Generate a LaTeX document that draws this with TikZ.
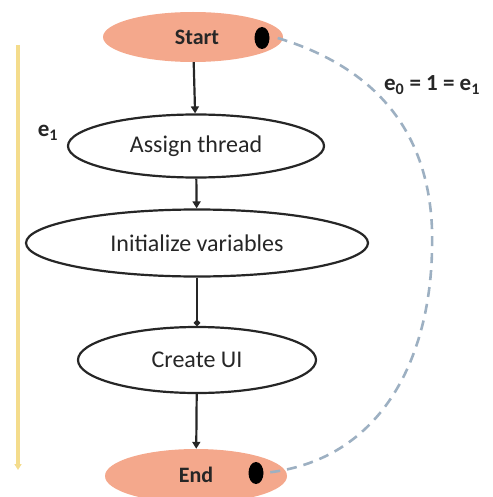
\documentclass[tikz,border=0pt]{standalone}
\usepackage{fontspec}
\setmainfont{Carlito}
\usetikzlibrary{shapes.geometric,arrows.meta}
\definecolor{salmon}{HTML}{F4A88C}
\definecolor{flowyellow}{HTML}{F4DC8C}
\definecolor{loopblue}{HTML}{9DB0C2}
\definecolor{ink}{HTML}{262626}
\begin{document}
\begin{tikzpicture}[x=1pt,y=-1pt,
  stepbox/.style={ellipse, draw=ink, line width=2.2pt, fill=white, inner sep=0pt,
    font=\fontsize{24}{28}\selectfont, text=ink},
  terminal/.style={ellipse, fill=salmon, inner sep=0pt, minimum width=180pt,
    minimum height=50pt, font=\bfseries\fontsize{22}{26}\selectfont, text=ink},
  token/.style={ellipse, fill=black, inner sep=0pt, minimum width=15pt, minimum height=22pt},
  flow/.style={line width=2.2pt, draw=ink, -{Triangle[length=7pt,width=8pt]}},
  joint/.style={line width=2.2pt, draw=ink, -{Circle[length=6pt]}},
  loop/.style={draw=loopblue, line width=2.6pt, dash pattern=on 10pt off 7pt},
  lbl/.style={font=\bfseries\fontsize{23}{26}\selectfont, text=ink}
]
\useasboundingbox (0,0) rectangle (492,497);
\clip (0,0) rectangle (492,497);

% progress bar down the left side
\coordinate (ytop) at (18,45);
\coordinate (ybot) at (18,470);
\draw[flowyellow, line width=4pt, -{Triangle[length=6pt,width=7pt]}] (ytop) -- (ybot);

% terminals
\node[terminal] (start) at (193,37) {\hspace*{8pt}Start};
\node[token] (sdot) at (262,38) {};
\node[terminal, minimum width=182pt, minimum height=54pt] (end) at (196,476) {\raisebox{3pt}{End}};
\node[token] (edot) at (256,473) {};

% steps
\node[stepbox, minimum width=256pt, minimum height=63pt] (assign) at (196,146) {Assign thread};
\node[stepbox, minimum width=342pt, minimum height=67pt] (init) at (197,243) {Initialize variables};
\node[stepbox, minimum width=238pt, minimum height=66pt] (ui) at (197,360) {Create UI};

% main flow
\draw[flow] (start) -- (assign);
\draw[flow] (assign) -- (init);
\draw[joint] (init) -- (ui);
\draw[flow] (ui) -- (end);

% loop back from end to start
\draw[loop] (sdot.east) ++(8,0) coordinate (lstart)
  .. controls (400,75) and (435,160) .. (432,250)
  .. controls (430,360) and (380,462) .. (edot.east);

% labels
\node[lbl] (e1) at (48,133) {e\textsubscript{1}};
\node[lbl] (econd) at (432,85) {e\textsubscript{0} = 1 = e\textsubscript{1}};
\end{tikzpicture}
\end{document}
